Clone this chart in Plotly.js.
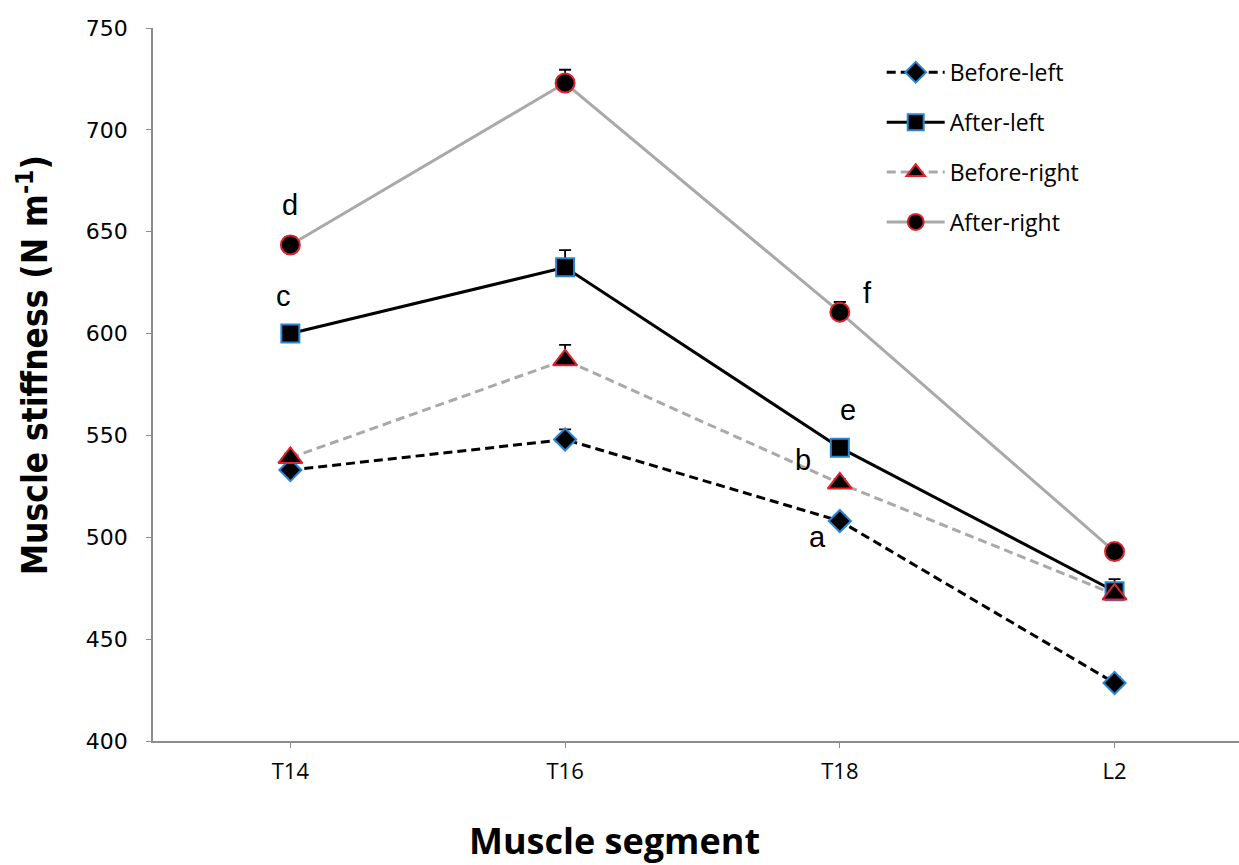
<!DOCTYPE html>
<html>
<head>
<meta charset="utf-8">
<script src="https://cdn.plot.ly/plotly-3.0.1.min.js"></script>
<style>html,body{margin:0;padding:0;background:#fff;}#chart{width:1239px;height:865px;}</style>
</head>
<body>
<div id="chart"></div>
<script>
var segments = ['T14', 'T16', 'T18', 'L2'];
var beforeLeft = [533, 548, 508, 428.5];
var afterLeft = [600, 632.5, 544, 473.5];
var beforeRight = [539, 587, 526.5, 472];
var afterRight = [643.5, 723, 610.5, 493];
var beforeLeftErr = [3, 5, 3, 3];
var afterLeftErr = [3, 8.5, 3, 6];
var beforeRightErr = [2, 7.5, 2, 2];
var afterRightErr = [4, 6.5, 5, 3];
var seriesNames = ['Before-left', 'After-left', 'Before-right', 'After-right'];
var letters = ['a', 'b', 'c', 'd', 'e', 'f'];
var letterSegments = ['T18', 'T18', 'T14', 'T14', 'T18', 'T18'];
var letterValues = [500, 538, 618.5, 663, 562.5, 620];

var BLUE = '#2a86d4', RED = '#e0222b', GREY = '#a9a9a9';

function errs(a) {
  return {type: 'data', array: a, arrayminus: a.map(function(){return 0;}), symmetric: false,
          color: '#000', thickness: 1.8, width: 6};
}

var traces = [
  {x: segments, y: beforeLeft, name: seriesNames[0], legendgroup: 'g1', type: 'scatter', mode: 'lines+markers',
   line: {color: '#000', width: 3, dash: '9px,5px'},
   marker: {symbol: 'diamond', size: 17, color: '#000', line: {color: BLUE, width: 2}},
   error_y: errs(beforeLeftErr)},
  {x: segments, y: afterLeft, name: seriesNames[1], legendgroup: 'g2', type: 'scatter', mode: 'lines+markers',
   line: {color: '#000', width: 3},
   marker: {symbol: 'square', size: 18, color: '#000', line: {color: BLUE, width: 2}},
   error_y: errs(afterLeftErr)},
  {x: segments, y: beforeRight, name: seriesNames[2], legendgroup: 'g3', type: 'scatter', mode: 'lines+markers',
   line: {color: GREY, width: 3, dash: '9px,5px'},
   marker: {symbol: 'triangle-up', size: 21, color: '#000', line: {color: RED, width: 2}},
   error_y: errs(beforeRightErr)},
  {x: segments, y: afterRight, name: seriesNames[3], legendgroup: 'g4', type: 'scatter', mode: 'lines+markers',
   line: {color: GREY, width: 3},
   marker: {symbol: 'circle', size: 19, color: '#000', line: {color: RED, width: 2}},
   error_y: errs(afterRightErr)}
];

var letterShift = [-22, -37, -7, 0, 8, 28];
var annotations = letters.map(function(t, i) {
  return {x: letterSegments[i], y: letterValues[i], xref: 'x', yref: 'y', text: t, showarrow: false,
          xshift: letterShift[i], font: {family: 'Liberation Sans, Arial, sans-serif', size: 29, color: '#000'}};
});
annotations.push({x: 0.425, y: -0.139, xref: 'paper', yref: 'paper', xanchor: 'center', yanchor: 'middle', showarrow: false,
  text: 'Muscle segment', font: {family: 'Open Sans, sans-serif', size: 36, color: '#000', weight: 'bold'}});
annotations.push({x: -0.1105, y: 0.527, xref: 'paper', yref: 'paper', xanchor: 'center', yanchor: 'middle', showarrow: false, textangle: -90,
  text: 'Muscle stiffness (N m<sup>-1</sup>)',
  font: {family: 'Liberation Sans Narrow, DejaVu Sans Condensed, sans-serif', size: 35, color: '#000', weight: 'bold'}});

var layout = {
  width: 1239, height: 865,
  margin: {l: 153, r: 0, t: 28, b: 124},
  paper_bgcolor: '#fff', plot_bgcolor: '#fff',
  showlegend: true,
  legend: {x: 0.671, y: 0.968, xanchor: 'left', yanchor: 'top', traceorder: 'grouped', tracegroupgap: 17,
           itemwidth: 58,
           font: {family: 'Open Sans, sans-serif', size: 23, color: '#000'}, bgcolor: 'rgba(0,0,0,0)'},
  xaxis: {type: 'category', range: [-0.5, 3.453], showgrid: false, zeroline: false,
          showline: true, linecolor: '#8c8c8c', linewidth: 1.5, ticks: 'outside', ticklen: 5, tickcolor: '#8c8c8c',
          ticklabelstandoff: 5,
          tickfont: {family: 'Open Sans, sans-serif', size: 22, color: '#000'}},
  yaxis: {range: [400, 750], dtick: 50, tick0: 400, showgrid: false, zeroline: false,
          showline: true, linecolor: '#8c8c8c', linewidth: 1.5, ticks: 'outside', ticklen: 5, tickcolor: '#8c8c8c',
          ticklabelstandoff: 14,
          tickfont: {family: 'DejaVu Sans, Verdana, sans-serif', size: 22, color: '#000'}},
  annotations: annotations
};

Plotly.newPlot('chart', traces, layout, {displayModeBar: false});
</script>
</body>
</html>
